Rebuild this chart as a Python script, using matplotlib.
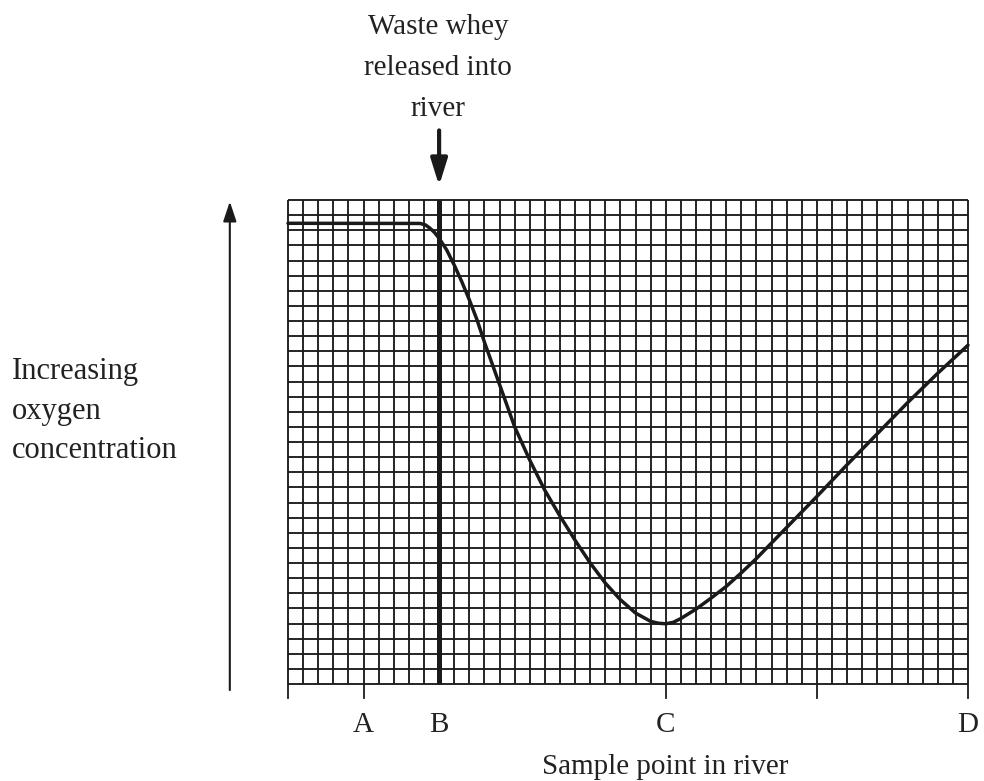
import matplotlib
matplotlib.use('Agg')
import matplotlib.pyplot as plt

# grid size in small squares
n_cols = 45
n_rows = 32

# curve (x in squares from left edge, y in squares from bottom)
curve_x = [0, 8.75, 9.1, 9.4, 9.7, 10.0, 10.5, 11.0, 11.5, 12.0, 12.5, 13.0, 13.5, 14.0,
           15.0, 16.0, 17.0, 18.0, 19.0, 20.0, 21.0, 22.0, 23.0, 24.0, 24.5, 25.0,
           25.5, 26.0, 27.0, 28.0, 29.0, 30.0, 31.0, 33.0, 35.0, 37.0, 39.0, 41.0,
           43.0, 45.0]
curve_y = [30.46, 30.45, 30.35, 30.13, 29.85, 29.47, 28.7, 27.7, 26.6, 25.4, 24.1, 22.6,
           21.2, 19.8, 17.0, 14.8, 12.8, 11.1, 9.5, 8.0, 6.67, 5.57, 4.69, 4.14, 4.02, 3.98,
           4.08, 4.33, 4.95, 5.68, 6.45, 7.35, 8.3, 10.35, 12.4, 14.5, 16.55, 18.6,
           20.55, 22.4]

tick_pos = [0, 5, 25, 35, 45]
letter_pos = [5, 10, 25, 45]
letters = ['A', 'B', 'C', 'D']
release_x = 10

W, H = 984, 781
fig = plt.figure(figsize=(W / 100, H / 100), dpi=100, facecolor='white')
left, right, top, bottom = 288, 968, 200, 684
ax = fig.add_axes([left / W, 1 - bottom / H, (right - left) / W, (bottom - top) / H])
ax.set_xlim(0, n_cols)
ax.set_ylim(0, n_rows)
ax.axis('off')

grid_col = '#1c1c1c'
for i in range(n_cols + 1):
    ax.plot([i, i], [0, n_rows], color=grid_col, lw=1.35, solid_capstyle='butt',
            clip_on=False, zorder=1)
for j in range(n_rows + 1):
    ax.plot([0, n_cols], [j, j], color=grid_col, lw=1.35, solid_capstyle='butt',
            clip_on=False, zorder=1)

# ticks below the grid
for t in tick_pos:
    ax.plot([t, t], [0, -0.95], color=grid_col, lw=1.3, clip_on=False, zorder=1)

# heavy line where whey is released
ax.plot([release_x, release_x], [0, n_rows], color='#1a1a1a', lw=3.6,
        solid_capstyle='butt', clip_on=False, zorder=2)

# oxygen curve
ax.plot(curve_x, curve_y, color='#1a1a1a', lw=2.5, solid_capstyle='round',
        solid_joinstyle='round', clip_on=False, zorder=3)

font = dict(family='Liberation Serif', color='#222222')

for x, lab in zip(letter_pos, letters):
    ax.text(x, -2.7, lab, ha='center', va='center', fontsize=21, **font)

fig.text(665 / W, 1 - 767 / H, 'Sample point in river', ha='center', va='center',
         fontsize=21, **font)

# release annotation and arrow
fig.text(438 / W, 1 - 68 / H, 'Waste whey\nreleased into\nriver', ha='center', va='center',
         fontsize=21, linespacing=1.76, **font)
ax.annotate('', xy=(release_x, 32.95), xytext=(release_x, 36.6),
            arrowprops=dict(arrowstyle='-|>,head_width=0.5,head_length=1.6',
                            color='#1a1a1a', lw=3.0, shrinkA=0, shrinkB=0),
            annotation_clip=False)

# y axis arrow
ax.annotate('', xy=(-3.85, n_rows - 0.1), xytext=(-3.85, -0.4),
            arrowprops=dict(arrowstyle='-|>,head_width=0.4,head_length=1.2',
                            color='#1a1a1a', lw=1.5, shrinkA=0, shrinkB=0),
            annotation_clip=False)

fig.text(12 / W, 1 - 411 / H, 'Increasing\noxygen\nconcentration', ha='left', va='center',
         fontsize=22, linespacing=1.5, **font)

fig.savefig('out.png', dpi=100, facecolor='white')
